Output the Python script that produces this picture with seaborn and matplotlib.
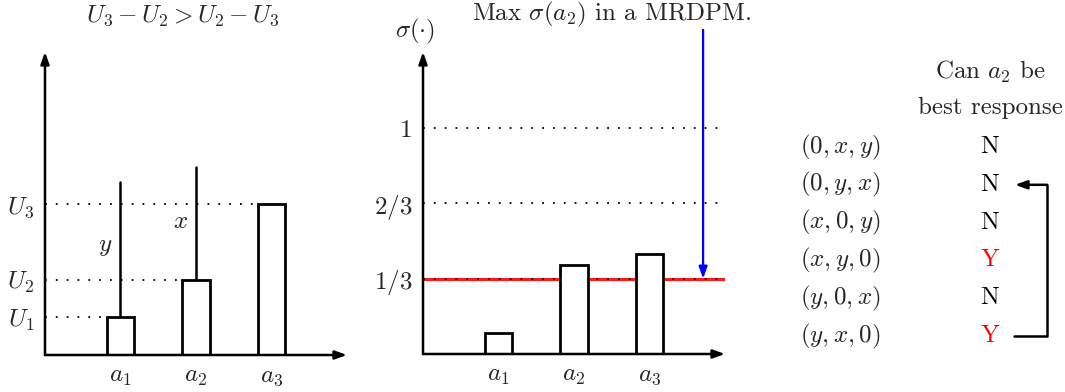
import numpy as np
import pandas as pd
import matplotlib
matplotlib.use("Agg")
import matplotlib.pyplot as plt
import seaborn as sns

# left panel: utilities
actions = ["$a_1$", "$a_2$", "$a_3$"]
utilities = [1, 2, 4]
util_labels = ["$U_1$", "$U_2$", "$U_3$"]
stick_tops = [4.6, 5.0]           # tops of the y / x sticks on a1, a2
stick_names = ["$y$", "$x$"]

# middle panel: mixed strategy
sigma = [0.093, 0.394, 0.442]
sigma_ticks = [1 / 3, 2 / 3, 1]
sigma_labels = ["$1/3$", "$2/3$", "$1$"]
max_sigma_a2 = 1 / 3

# right table
orders = ["$(0,x,y)$", "$(0,y,x)$", "$(x,0,y)$", "$(x,y,0)$", "$(y,0,x)$", "$(y,x,0)$"]
answers = ["N", "N", "N", "Y", "N", "Y"]

sns.set_style("white")
plt.rcParams["font.family"] = ["cmr10", "DejaVu Serif"]
plt.rcParams["mathtext.fontset"] = "cm"
plt.rcParams["axes.formatter.use_mathtext"] = True
FS = 18
W, H = 1065, 392

fig = plt.figure(figsize=(W / 100, H / 100), dpi=100)


def px_axes(x0, y0, x1, y1):
    return fig.add_axes([x0 / W, 1 - y1 / H, (x1 - x0) / W, (y1 - y0) / H])


def arrow_axes(ax, ytop):
    kw = dict(arrowstyle="-|>,head_length=0.5,head_width=0.18", lw=1.8, color="black",
              shrinkA=0, shrinkB=0, mutation_scale=14)
    ax.annotate("", xy=(3, 0), xytext=(-1, 0), arrowprops=kw, annotation_clip=False)
    ax.annotate("", xy=(-1, ytop), xytext=(-1, 0), arrowprops=kw, annotation_clip=False)


def style_bars(ax):
    for p in ax.patches:
        p.set_facecolor("white")
        p.set_edgecolor("black")
        p.set_linewidth(2)
    sns.despine(ax=ax, left=True, bottom=True)
    ax.tick_params(length=0, labelsize=FS, pad=8)
    ax.set_xlabel("")
    ax.set_ylabel("")
    ax.set_facecolor("none")


dots = (0, (1, 5))

# ---- left panel
ax1 = px_axes(45, 52, 347, 355)
df1 = pd.DataFrame({"action": actions, "u": utilities})
sns.barplot(data=df1, x="action", y="u", width=0.37, color="white", ax=ax1, zorder=3)
style_bars(ax1)
ax1.set_xlim(-1, 3)
ax1.set_ylim(0, 8.04)
ax1.set_yticks(utilities, util_labels)
for i, u in enumerate(utilities):
    ax1.plot([-1, i - 0.185], [u, u], color="black", lw=1.3, ls=dots, zorder=2)
for i, top in enumerate(stick_tops):
    ax1.plot([i, i], [utilities[i], top], color="black", lw=1.8, zorder=2)
ax1.text(-0.205, 2.86, stick_names[0], fontsize=FS, ha="center", va="center")
ax1.text(0.80, 3.53, stick_names[1], fontsize=FS, ha="center", va="center")
ax1.text(0.83, 9.0, r"$U_3-U_2>U_2-U_3$", fontsize=FS, ha="center", va="center")
arrow_axes(ax1, 8.04)

# ---- middle panel
ax2 = px_axes(423, 52, 725, 354)
df2 = pd.DataFrame({"action": actions, "sigma": sigma})
sns.barplot(data=df2, x="action", y="sigma", width=0.37, color="white", ax=ax2, zorder=3)
style_bars(ax2)
ax2.set_xlim(-1, 3)
ax2.set_ylim(0, 1.336)
ax2.set_yticks(sigma_ticks, sigma_labels)
ax2.plot([-1, 3], [max_sigma_a2, max_sigma_a2], color="red", lw=2.2, alpha=0.9, zorder=1)
for t in sigma_ticks:
    ax2.plot([-1, 3], [t, t], color="black", lw=1.3, ls=dots, zorder=2)
ax2.annotate("", xy=(2.71, max_sigma_a2), xytext=(2.71, 1.434),
             arrowprops=dict(arrowstyle="-|>,head_length=0.5,head_width=0.18", lw=1.6,
                             color="blue", shrinkA=0, shrinkB=0, mutation_scale=14),
             annotation_clip=False)
ax2.text(1.5, 1.5, r"Max $\sigma(a_2)$ in a MRDPM.", fontsize=FS, ha="center", va="center")
ax2.text(-1.106, 1.425, r"$\sigma(\cdot)$", fontsize=FS, ha="center", va="center")
arrow_axes(ax2, 1.336)

# ---- right table
ax3 = px_axes(760, 0, 1065, 392)
ax3.set_xlim(760, 1065)
ax3.set_ylim(392, 0)
ax3.axis("off")
ax3.text(990, 72, r"Can $a_2$ be", fontsize=FS, ha="center", va="center")
ax3.text(990, 108, "best response", fontsize=FS, ha="center", va="center")
row_y = 147 + 37.8 * np.arange(len(orders))
for y, o, a in zip(row_y, orders, answers):
    ax3.text(840, y, o, fontsize=FS, ha="center", va="center")
    ax3.text(990, y, a, fontsize=FS, ha="center", va="center",
             color="red" if a == "Y" else "black")
ax3.plot([1014, 1047, 1047], [row_y[5], row_y[5], row_y[1]], color="black", lw=1.8)
ax3.annotate("", xy=(1015, row_y[1]), xytext=(1047, row_y[1]),
             arrowprops=dict(arrowstyle="-|>,head_length=0.5,head_width=0.18", lw=1.8,
                             color="black", shrinkA=0, shrinkB=0, mutation_scale=14))

fig.savefig("out.png", dpi=100)
